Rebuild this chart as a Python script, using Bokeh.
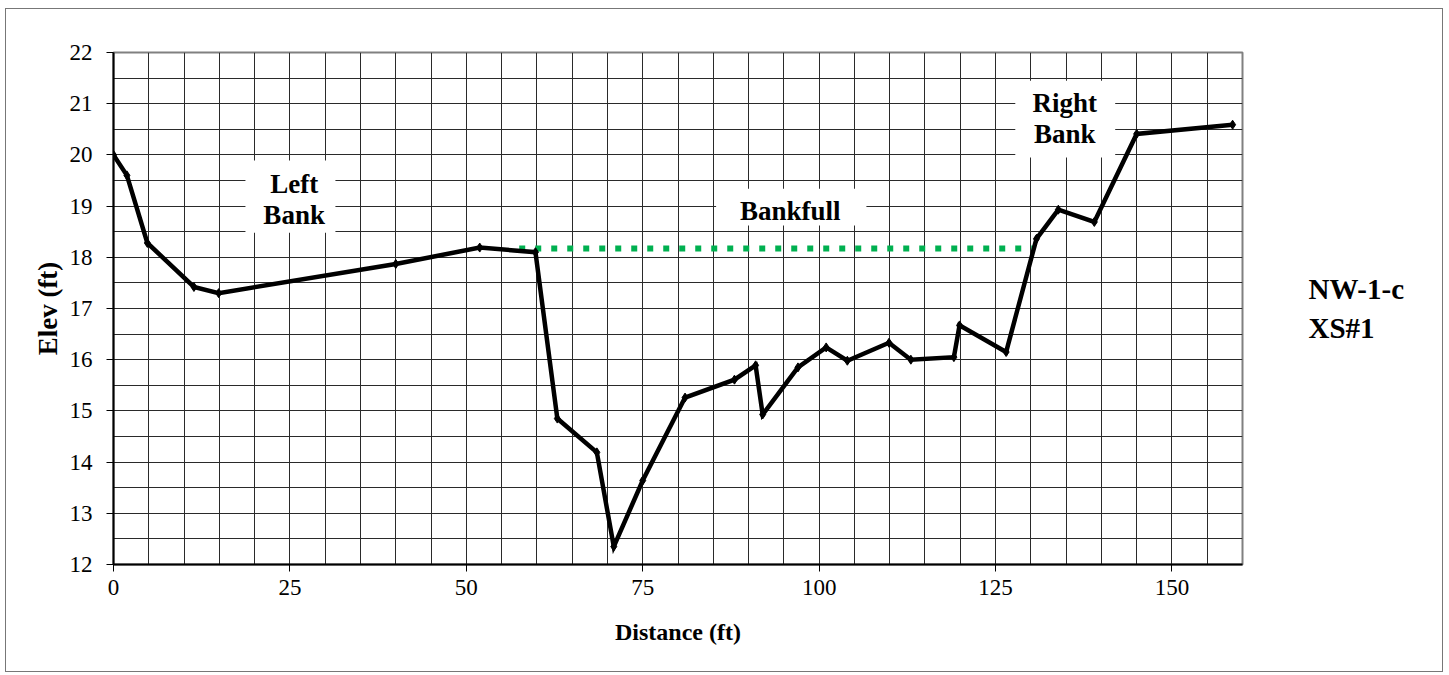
from bokeh.plotting import figure
from bokeh.models import Range1d, SingleIntervalTicker, FixedTicker, Label, BoxAnnotation, LinearAxis
from bokeh.embed import file_html
from bokeh.resources import INLINE

# Cross-section survey (distance ft, elevation ft)
distance = [0, 1.9, 4.8, 11.4, 14.9, 40.0, 51.9, 59.8, 62.9, 68.5, 70.9, 75.0, 81.0,
            88.0, 91.0, 92.0, 97.0, 101.0, 104.0, 109.9, 113.0, 119.1, 119.9, 126.5,
            130.8, 133.9, 139.0, 145.0, 158.6]
elevation = [20.0, 19.6, 18.28, 17.42, 17.3, 17.87, 18.19, 18.1, 14.85, 14.19, 12.35,
             13.64, 15.26, 15.61, 15.89, 14.93, 15.85, 16.24, 15.98, 16.33, 16.0, 16.05,
             16.67, 16.15, 18.36, 18.93, 18.69, 20.41, 20.59]

bankfull_x = [57.5, 130.5]
bankfull_y = [18.17, 18.17]

x_ticks_interval = 25
y_ticks_interval = 1
site_label = "NW-1-c\nXS#1"

FONT = "Liberation Serif"
W, H = 1438, 664

p = figure(width=W, height=H, x_range=Range1d(0, 160), y_range=Range1d(12, 22),
           output_backend="svg", toolbar_location=None,
           min_border_left=107, min_border_right=202, min_border_top=43, min_border_bottom=109,
           styles={"border": "1px solid #777777", "margin-left": "5px", "margin-top": "8px"})

p.background_fill_color = "white"
p.border_fill_color = "white"
p.outline_line_color = "#808080"
p.outline_line_width = 2

# grid
p.xgrid.ticker = SingleIntervalTicker(interval=5)
p.ygrid.ticker = SingleIntervalTicker(interval=0.5)
for g in (p.xgrid, p.ygrid):
    g.grid_line_color = "#2a2a2a"
    g.grid_line_width = 1
    g.grid_line_alpha = 1

# axes
p.xaxis.ticker = SingleIntervalTicker(interval=x_ticks_interval, num_minor_ticks=0)
p.yaxis.ticker = SingleIntervalTicker(interval=y_ticks_interval, num_minor_ticks=0)
for ax in (p.xaxis, p.yaxis):
    ax.axis_line_color = "black"
    ax.axis_line_width = 2
    ax.major_tick_in = 0
    ax.major_tick_out = 7
    ax.major_tick_line_color = "black"
    ax.minor_tick_line_color = None
    ax.major_label_text_font = FONT
    ax.major_label_text_font_size = "23px"
    ax.major_label_text_color = "black"
    ax.axis_label_text_font = FONT
    ax.axis_label_text_font_style = "bold"
    ax.axis_label_text_color = "black"
p.xaxis.axis_label_text_font_size = "24px"
p.yaxis.axis_label_text_font_size = "27px"
p.xaxis.major_label_standoff = 8
p.yaxis.major_label_standoff = 14
p.xaxis.axis_label = "Distance (ft)"
p.yaxis.axis_label = "Elev (ft)"
p.xaxis.axis_label_standoff = 21
p.yaxis.axis_label_standoff = 4

# site label on the right side (label-only axis)
site_axis = LinearAxis(ticker=FixedTicker(ticks=[]), axis_line_color=None,
                       major_tick_line_color=None, minor_tick_line_color=None,
                       major_label_text_font_size="0px",
                       axis_label=site_label, axis_label_orientation="horizontal",
                       axis_label_standoff=66, axis_label_text_font=FONT,
                       axis_label_text_font_size="29px", axis_label_text_font_style="bold",
                       axis_label_text_color="black")
p.add_layout(site_axis, "right")

# bankfull line
p.line(bankfull_x, bankfull_y, line_color="#00B050", line_width=6, line_dash="6 10",
       line_cap="butt")

# cross section line
p.line(distance, elevation, line_color="black", line_width=4.5, line_join="miter")
p.scatter(distance, elevation, marker="diamond", size=9, color="black")

# annotation boxes
def box(l, r, t, b):
    p.add_layout(BoxAnnotation(left=l, right=r, top=t, bottom=b, fill_color="white",
                               fill_alpha=1, line_alpha=0, level="overlay"))

def lab(x, y, text, size="27px"):
    p.add_layout(Label(x=x, y=y, text=text, text_font=FONT, text_font_size=size,
                       text_font_style="bold", text_align="center",
                       text_baseline="alphabetic", text_color="black", level="overlay"))

box(18.7, 31.45, 19.89, 18.48)
lab(25.6, 19.43, "Left")
lab(25.6, 18.82, "Bank")

box(85.4, 106.7, 19.34, 18.62)
lab(95.9, 18.90, "Bankfull")

box(127.8, 141.96, 21.45, 19.95)
lab(134.8, 21.01, "Right")
lab(134.8, 20.41, "Bank")

open("out.html", "w").write(file_html(p, INLINE))
